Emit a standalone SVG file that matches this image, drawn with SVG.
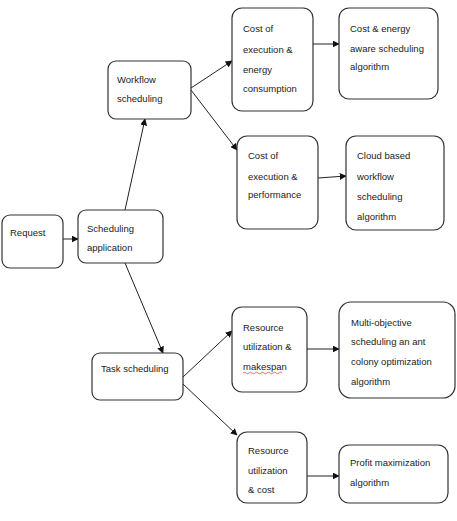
<svg xmlns="http://www.w3.org/2000/svg" width="457" height="521" viewBox="0 0 457 521">
<defs>
<marker id="ah" viewBox="0 0 10 10" refX="9" refY="5" markerWidth="7" markerHeight="7" markerUnits="userSpaceOnUse" orient="auto">
<path d="M0,0 L10,5 L0,10 z" fill="#111"/>
</marker>
<style>
.box{fill:#fff;stroke:#333;stroke-width:1.2}
.t{font-family:"Liberation Sans",Arial,sans-serif;font-size:9.5px;fill:#222}
.c{stroke:#222;stroke-width:1;fill:none;marker-end:url(#ah)}
</style>
</defs>
<rect width="457" height="521" fill="#fff"/>
<g id="connectors">
<line class="c" x1="63" y1="239" x2="78" y2="239"/>
<line class="c" x1="125" y1="210" x2="145" y2="119"/>
<line class="c" x1="125" y1="263" x2="163" y2="353"/>
<line class="c" x1="191" y1="88" x2="232" y2="61"/>
<line class="c" x1="191" y1="90" x2="237" y2="150"/>
<line class="c" x1="313" y1="44" x2="339" y2="44"/>
<line class="c" x1="318" y1="178" x2="346" y2="176"/>
<line class="c" x1="183" y1="377" x2="232" y2="331"/>
<line class="c" x1="183" y1="384" x2="237" y2="435"/>
<line class="c" x1="307" y1="349" x2="339" y2="349"/>
<line class="c" x1="307" y1="476" x2="339" y2="476"/>
</g>
<g id="request">
<rect class="box" x="2" y="215" width="61" height="53" rx="8"/>
<text class="t" x="10" y="236">Request</text>
</g>
<g id="scheduling-application">
<rect class="box" x="78" y="210" width="85" height="53" rx="8"/>
<text class="t" x="87" y="232">Scheduling</text>
<text class="t" x="87" y="251">application</text>
</g>
<g id="workflow-scheduling">
<rect class="box" x="108" y="61" width="83" height="58" rx="8"/>
<text class="t" x="117" y="83">Workflow</text>
<text class="t" x="117" y="102">scheduling</text>
</g>
<g id="task-scheduling">
<rect class="box" x="92" y="353" width="91" height="47" rx="8"/>
<text class="t" x="101" y="372">Task scheduling</text>
</g>
<g id="cost-energy">
<rect class="box" x="232" y="8" width="81" height="103" rx="10"/>
<text class="t" x="243" y="32">Cost of</text>
<text class="t" x="243" y="53">execution &amp;</text>
<text class="t" x="243" y="73">energy</text>
<text class="t" x="243" y="92">consumption</text>
</g>
<g id="cost-energy-algo">
<rect class="box" x="339" y="8" width="99" height="91" rx="10"/>
<text class="t" x="350" y="32">Cost &amp; energy</text>
<text class="t" x="350" y="52">aware scheduling</text>
<text class="t" x="350" y="70">algorithm</text>
</g>
<g id="cost-performance">
<rect class="box" x="237" y="136" width="81" height="93" rx="10"/>
<text class="t" x="248" y="159">Cost of</text>
<text class="t" x="248" y="180">execution &amp;</text>
<text class="t" x="248" y="198">performance</text>
</g>
<g id="cloud-algo">
<rect class="box" x="346" y="136" width="98" height="94" rx="10"/>
<text class="t" x="357" y="159">Cloud based</text>
<text class="t" x="357" y="180">workflow</text>
<text class="t" x="357" y="200">scheduling</text>
<text class="t" x="357" y="220">algorithm</text>
</g>
<g id="resource-makespan">
<rect class="box" x="232" y="307" width="75" height="85" rx="10"/>
<text class="t" x="243" y="331">Resource</text>
<text class="t" x="243" y="350">utilization  &amp;</text>
<text class="t" x="243" y="370">makespan</text>
<path d="M243,373 q1.5,-1.5 3,0 t3,0 t3,0 t3,0 t3,0 t3,0 t3,0 t3,0 t3,0 t3,0 t3,0 t3,0 t3,0" fill="none" stroke="#d33" stroke-width="0.7"/>
</g>
<g id="multi-objective-algo">
<rect class="box" x="339" y="302" width="116" height="96" rx="12"/>
<text class="t" x="351" y="326">Multi-objective</text>
<text class="t" x="351" y="345">scheduling an ant</text>
<text class="t" x="351" y="365">colony optimization</text>
<text class="t" x="351" y="385">algorithm</text>
</g>
<g id="resource-cost">
<rect class="box" x="237" y="432" width="70" height="71" rx="10"/>
<text class="t" x="248" y="454">Resource</text>
<text class="t" x="248" y="474">utilization</text>
<text class="t" x="248" y="493">&amp; cost</text>
</g>
<g id="profit-algo">
<rect class="box" x="339" y="445" width="109" height="58" rx="10"/>
<text class="t" x="350" y="466">Profit maximization</text>
<text class="t" x="350" y="486">algorithm</text>
</g>
</svg>
